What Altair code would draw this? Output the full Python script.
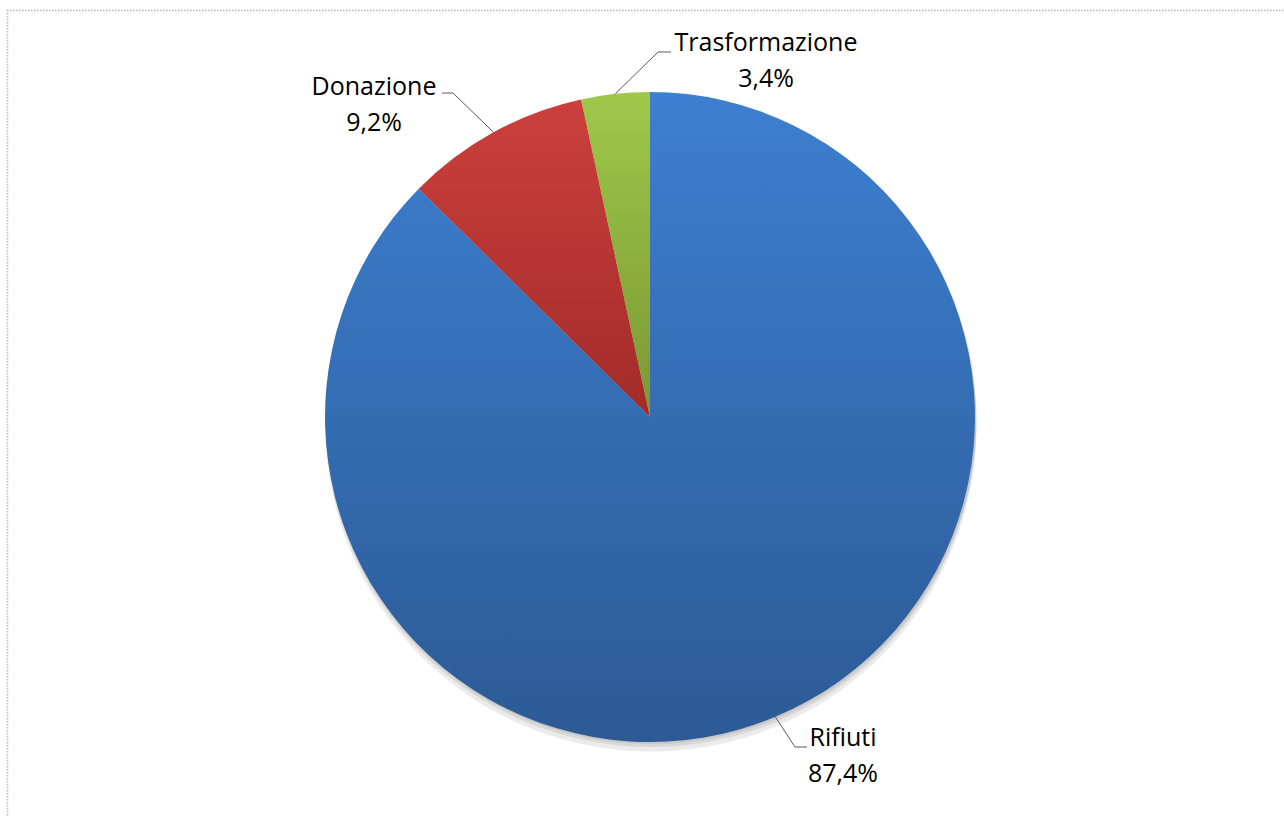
import altair as alt
import pandas as pd
import numpy as np

# ---- data ----
categories = ["Rifiuti", "Donazione", "Trasformazione"]
values = [87.4, 9.2, 3.4]
pct_labels = ["87,4%", "9,2%", "3,4%"]

# ---- layout (annotation placement, not data) ----
W, H = 1284, 816
CX, CY, R = 650, 417, 325
label_pos = {  # text block centre, leader elbow, leader end
    "Rifiuti": (843, 738, 795, 747, 807, 747),
    "Donazione": (374, 87, 453, 93, 442, 93),
    "Trasformazione": (766, 43, 658, 52, 671, 52),
}
gradients = {
    "Rifiuti": ("#3d7fd0", "#2c5a95"),
    "Donazione": ("#cc403c", "#a12b28"),
    "Trasformazione": ("#9fc84a", "#7a9833"),
}
FONT = "Open Sans"

df = pd.DataFrame({"cat": categories, "value": values, "pct": pct_labels})
df["end"] = df["value"].cumsum()
df["start"] = df["end"] - df["value"]
mid = (df["start"] + df["value"] / 2) / 100 * 2 * np.pi
df["ex"] = CX + R * np.sin(mid)
df["ey"] = CY - R * np.cos(mid)
df["tx"] = [label_pos[c][0] for c in categories]
df["ty"] = [label_pos[c][1] for c in categories]
df["bx"] = [label_pos[c][2] for c in categories]
df["by"] = [label_pos[c][3] for c in categories]
df["lx"] = [label_pos[c][4] for c in categories]
df["ly"] = [label_pos[c][5] for c in categories]

xs = alt.Scale(domain=[0, W], range=[0, W])
ys = alt.Scale(domain=[0, H], range=[0, H])

base = alt.Chart(df)

layers = []

# soft shadow below the pie
shadow_df = pd.DataFrame({"k": [0, 1, 2], "off": [1.5, 3, 4.5]})
shadow = alt.Chart(shadow_df).mark_arc(
    radius=R + 0.5, theta=0, theta2=2 * np.pi, fill="#000000", fillOpacity=0.08
).encode(
    x=alt.value(CX + 1),
    y=alt.Y("off:Q", scale=alt.Scale(domain=[0, H], range=[CY, CY + H]), axis=None),
)
layers.append(shadow)

for c in categories:
    top, bot = gradients[c]
    grad = alt.LinearGradient(
        gradient="linear",
        stops=[alt.GradientStop(color=top, offset=0), alt.GradientStop(color=bot, offset=1)],
        x1=0, x2=0, y1=0, y2=1,
    )
    layers.append(
        base.transform_filter(alt.datum.cat == c)
        .mark_arc(radius=R, fill=grad, strokeWidth=0)
        .encode(
            theta=alt.Theta("start:Q", scale=alt.Scale(domain=[0, 100])),
            theta2="end:Q",
            x=alt.value(CX),
            y=alt.value(CY),
        )
    )

# leader lines
seg1 = base.mark_rule(color="#595959", strokeWidth=1).encode(
    x=alt.X("ex:Q", scale=xs, axis=None),
    y=alt.Y("ey:Q", scale=ys, axis=None),
    x2="bx:Q",
    y2="by:Q",
)
seg2 = base.mark_rule(color="#595959", strokeWidth=1).encode(
    x=alt.X("bx:Q", scale=xs, axis=None),
    y=alt.Y("by:Q", scale=ys, axis=None),
    x2="lx:Q",
    y2="ly:Q",
)
name_txt = base.mark_text(font=FONT, fontSize=25, color="#000000", align="center", baseline="middle").encode(
    x=alt.X("tx:Q", scale=xs, axis=None),
    y=alt.Y("ty:Q", scale=ys, axis=None),
    text="cat:N",
)
pct_txt = base.mark_text(font=FONT, fontSize=25, color="#000000", align="center", baseline="middle", dy=36).encode(
    x=alt.X("tx:Q", scale=xs, axis=None),
    y=alt.Y("ty:Q", scale=ys, axis=None),
    text="pct:N",
)
layers += [seg1, seg2, name_txt, pct_txt]

# dotted frame (top and left)
frame_df = pd.DataFrame({"k": [0]})
top_border = alt.Chart(frame_df).mark_rule(color="#b8b8b8", strokeWidth=1.5, strokeDash=[1.5, 1.5]).encode(
    x=alt.value(7), x2=alt.value(W), y=alt.value(10.5)
)
left_border = alt.Chart(frame_df).mark_rule(color="#b8b8b8", strokeWidth=1.5, strokeDash=[1.5, 1.5]).encode(
    x=alt.value(7.5), y=alt.value(10), y2=alt.value(H)
)
layers += [top_border, left_border]

chart = alt.layer(*layers).resolve_scale(y="independent").properties(
    width=W, height=H, padding=0, autosize=alt.AutoSizeParams(type="none"), background="white"
).configure_view(stroke=None)

chart.save("out.html", embed_options={"renderer": "svg", "actions": False})
